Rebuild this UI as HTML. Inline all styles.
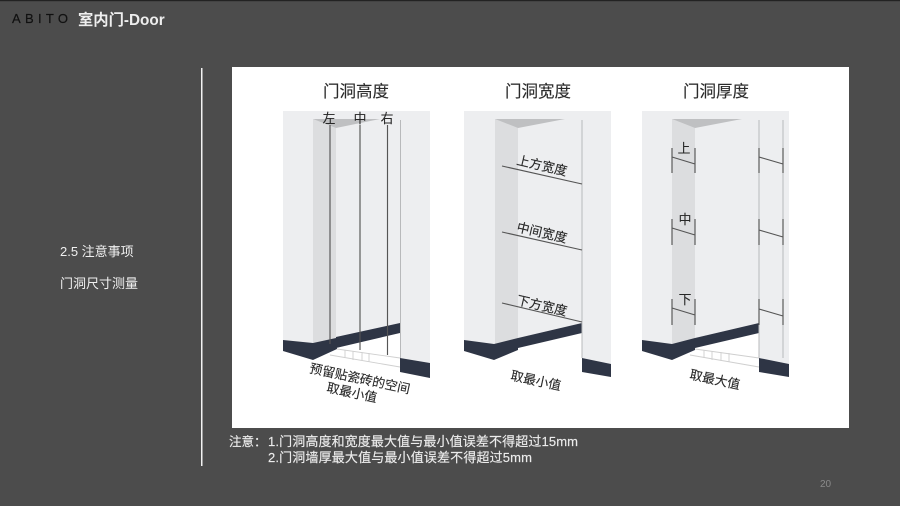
<!DOCTYPE html>
<html lang="zh">
<head>
<meta charset="utf-8">
<title>室内门-Door</title>
<style>
html,body{margin:0;padding:0;width:900px;height:506px;overflow:hidden;background:#4c4c4c}
svg{display:block}
text{font-family:"Liberation Sans","Noto Sans CJK SC",sans-serif}
.t{font-size:16.5px;fill:#2a2a2a;stroke:#2a2a2a;stroke-width:.12;text-anchor:middle}
.l{font-size:12.8px;fill:#262626;stroke:#262626;stroke-width:.1;text-anchor:middle}
.n{font-size:13px;fill:#ececec;stroke:#ececec;stroke-width:.15}
.wall{fill:#edeef0}
.jamb{fill:#dcdddf}
.tri{fill:#bfc0c2}
.base{fill:#2e3445}
.edge{stroke:#b8b9bb;stroke-width:1;fill:none}
.d{stroke:#555;stroke-width:1.15;fill:none}
.fl{stroke:#cfcfcf;stroke-width:.9;fill:none}
</style>
</head>
<body>
<svg width="900" height="506" viewBox="0 0 900 506" xmlns="http://www.w3.org/2000/svg">
<defs><filter id="b" x="-2%" y="-2%" width="104%" height="104%"><feGaussianBlur stdDeviation="0.35"/></filter></defs>
<rect width="900" height="506" fill="#4c4c4c"/>
<rect width="900" height="1.2" fill="#222"/>
<text x="12" y="23" style="font-size:13px;letter-spacing:4.3px;fill:#111;stroke:#111;stroke-width:.2">ABITO</text>
<text x="78" y="25" style="font-size:15.300px;font-weight:bold;fill:#eee">室内门-Door</text>
<rect x="201" y="68" width="1.5" height="398" fill="#f2f2f2"/>
<text x="60" y="256" style="font-size:13px;fill:#f0f0f0">2.5 注意事项</text>
<text x="60" y="288" style="font-size:13px;fill:#f0f0f0">门洞尺寸测量</text>
<rect x="232" y="67" width="617" height="361" fill="#fff"/>

<g filter="url(#b)">
<!-- Panel 1 -->
<text class="t" x="356" y="97">门洞高度</text>
<polygon class="wall" points="283,111 430,111 430,363 400,358 400,323 336,338 336,345 313,345 283,340"/>
<polygon class="jamb" points="313,119 336,128 336,340 313,345"/>
<polygon class="tri" points="313,119 380,119 336,128"/>
<polygon class="base" points="283,340 313,343 336,338 337,349 313,360 283,351"/>
<polygon class="base" points="336,337 400,323 400,333 336,348"/>
<polygon class="base" points="400,358 430,363 430,378 400,372"/>
<path class="edge" d="M400.5 120V358"/>
<path class="fl" d="M337 349L400 358M330 355L400 367M345 350V358M353 351V360M362 352V361M369 353V362"/>
<path class="d" d="M330 125V344M360 125V350M387.500 125V355"/>
<text class="l" x="329" y="123">左</text><text class="l" x="360" y="123">中</text><text class="l" x="387" y="123">右</text>
<text class="l" transform="translate(359,383) rotate(12)">预留贴瓷砖的空间</text>
<text class="l" transform="translate(351,397) rotate(12)">取最小值</text>

<!-- Panel 2 -->
<text class="t" x="538" y="97">门洞宽度</text>
<polygon class="wall" points="464,111 611,111 611,364 582,358 582,323 518,338 518,345 495,345 464,340"/>
<polygon class="jamb" points="495,119 518,128 518,340 495,345"/>
<polygon class="tri" points="495,119 565,119 518,128"/>
<polygon class="base" points="464,340 494,344 518,338 518,350 494,360 464,351"/>
<polygon class="base" points="518,338 582,323 582,333 518,348"/>
<polygon class="base" points="582,358 611,364 611,377 582,372"/>
<path class="edge" d="M582 120V358"/>
<path class="d" d="M502 166L582 184M502 232L582 250M502 303L582 322"/>
<text class="l" transform="translate(541,170) rotate(13)">上方宽度</text>
<text class="l" transform="translate(541,237) rotate(13)">中间宽度</text>
<text class="l" transform="translate(541,310) rotate(13)">下方宽度</text>
<text class="l" transform="translate(535,385) rotate(12)">取最小值</text>

<!-- Panel 3 -->
<text class="t" x="716" y="97">门洞厚度</text>
<polygon class="wall" points="642,111 789,111 789,364 759,358 759,323 695,338 695,345 672,345 642,340"/>
<polygon class="jamb" points="672,119 695,128 695,340 672,345"/>
<polygon class="tri" points="672,119 742,119 695,128"/>
<polygon class="base" points="642,340 672,344 695,338 695,350 672,360 642,351"/>
<polygon class="base" points="695,338 759,323 759,333 695,348"/>
<polygon class="base" points="759,358 789,364 789,377 759,372"/>
<path class="edge" d="M759 120V358M783 120V358"/>
<path class="fl" d="M695 349L759 358M690 355L759 367M704 350V358M712 351V360M721 352V361M729 353V362"/>
<path class="d" d="M672 148V173M695 148V173M672 157L695 164M759 148V173M783 148V173M759 157L783 164"/>
<path class="d" d="M672 219V245M695 219V245M672 228L695 235M759 219V245M783 219V245M759 230L783 237"/>
<path class="d" d="M672 299V325M695 299V325M672 308L695 315M759 299V325M783 299V325M759 309L783 316"/>
<text class="l" x="684" y="153">上</text>
<text class="l" x="685" y="224">中</text>
<text class="l" x="685" y="304">下</text>
<text class="l" transform="translate(714,384) rotate(12)">取最大值</text>
</g>

<!-- Notes -->
<text class="n" x="229" y="446" style="font-size:12.500px">注意：</text>
<text class="n" x="268" y="446" textLength="310">1.门洞高度和宽度最大值与最小值误差不得超过15mm</text>
<text class="n" x="268" y="462" textLength="264">2.门洞墙厚最大值与最小值误差不得超过5mm</text>
<text x="820" y="487" style="font-size:10px;fill:#8a8a8a">20</text>
</svg>
</body>
</html>
